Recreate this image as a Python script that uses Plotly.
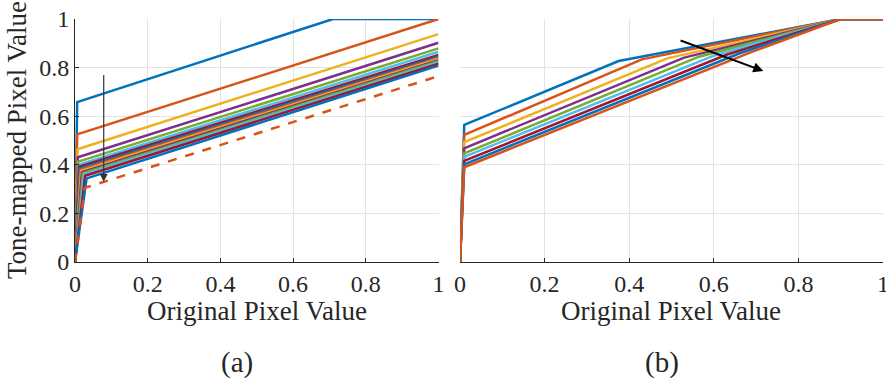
import plotly.graph_objects as go

# ---------------- data ----------------
colors = ["#0072BD", "#D95319", "#EDB120", "#7E2F8E", "#77AC30", "#4DBEEE", "#A2142F"]

# panel (a): knee point (x0, y0) and value at x = 1 (clipped at 1)
a_x0 = [0.006, 0.006, 0.007, 0.008, 0.009, 0.010, 0.011, 0.013, 0.015, 0.017, 0.019, 0.022, 0.025, 0.028, 0.032]
a_y0 = [0.658, 0.525, 0.464, 0.431, 0.413, 0.400, 0.392, 0.385, 0.380, 0.375, 0.370, 0.365, 0.360, 0.355, 0.344]
a_y1 = [1.141, 1.000, 0.938, 0.902, 0.879, 0.865, 0.852, 0.845, 0.840, 0.836, 0.831, 0.826, 0.821, 0.816, 0.808]
a_dash_x0 = 0.027
a_dash_y0 = 0.305
a_dash_y1 = 0.765

# panel (b): start value, knee point, then saturation at (0.9, 1)
b_x0 = 0.01
b_y0 = [0.564, 0.523, 0.493, 0.468, 0.447, 0.433, 0.416, 0.402, 0.390]
b_xk = [0.375, 0.430, 0.490, 0.530, 0.565, 0.600, 0.630, 0.660, 0.690]
b_yk = [0.827, 0.834, 0.838, 0.841, 0.845, 0.849, 0.853, 0.858, 0.865]
b_xs = 0.9

ticks = [0, 0.2, 0.4, 0.6, 0.8, 1]
tick_text = ["0", "0.2", "0.4", "0.6", "0.8", "1"]

FONT = "Liberation Serif"
TXT = "#262626"
LW = 2.5

fig = go.Figure()

# ---- panel (a) ----
for i, (x0, y0, y1) in enumerate(zip(a_x0, a_y0, a_y1)):
    xs = [0, x0]
    ys = [0, y0]
    if y1 > 1:
        xc = x0 + (1 - y0) * (1 - x0) / (y1 - y0)
        xs += [xc, 1]
        ys += [1, 1]
    else:
        xs += [1]
        ys += [y1]
    fig.add_trace(go.Scatter(x=xs, y=ys, mode="lines", xaxis="x", yaxis="y",
                             line=dict(color=colors[i % 7], width=LW), showlegend=False, hoverinfo="skip"))
fig.add_trace(go.Scatter(x=[0, a_dash_x0, 1], y=[0, a_dash_y0, a_dash_y1], mode="lines",
                         xaxis="x", yaxis="y",
                         line=dict(color=colors[1], width=LW, dash="dash"), showlegend=False, hoverinfo="skip"))

# ---- panel (b) ----
for i, (y0, xk, yk) in enumerate(zip(b_y0, b_xk, b_yk)):
    fig.add_trace(go.Scatter(x=[0, b_x0, xk, b_xs, 1], y=[0, y0, yk, 1, 1], mode="lines",
                             xaxis="x2", yaxis="y2",
                             line=dict(color=colors[i % 7], width=LW), showlegend=False, hoverinfo="skip"))

axis_common = dict(range=[0, 1], tickvals=ticks, ticktext=tick_text, showgrid=True,
                   gridcolor="#e3e3e3", gridwidth=1, zeroline=False, ticklen=4,
                   tickcolor=TXT, tickfont=dict(family=FONT, size=24, color=TXT),
                   fixedrange=True, automargin=False, ticklabeloverflow="allow")

fig.update_layout(
    width=886, height=387,
    margin=dict(l=0, r=0, t=0, b=0, autoexpand=False),
    paper_bgcolor="white", plot_bgcolor="white",
    xaxis=dict(domain=[75 / 886, 438.5 / 886], anchor="y", showline=True, linecolor=TXT, linewidth=1,
               ticks="inside", **axis_common),
    yaxis=dict(domain=[(387 - 262) / 387, (387 - 19) / 387], anchor="x", showline=True, linecolor=TXT,
               linewidth=1, ticks="inside", **axis_common),
    xaxis2=dict(domain=[460 / 886, 883 / 886], anchor="y2", showline=True, linecolor=TXT, linewidth=1,
                ticks="inside", **axis_common),
    yaxis2=dict(domain=[(387 - 262) / 387, (387 - 19) / 387], anchor="x2", showline=False,
                showticklabels=False, ticks="", **axis_common),
)

ann = []
ann.append(dict(x=257, y=311, text="Original Pixel Value", size=27))
ann.append(dict(x=671, y=311, text="Original Pixel Value", size=27))
ann.append(dict(x=17, y=140, text="Tone-mapped Pixel Value", size=27, angle=-90))
ann.append(dict(x=237, y=362, text="(a)", size=29))
ann.append(dict(x=662, y=362, text="(b)", size=29))
annotations = []
for a in ann:
    annotations.append(dict(x=a["x"] / 886, y=1 - a["y"] / 387, xref="paper", yref="paper",
                            xanchor="center", yanchor="middle",
                            text=a["text"], showarrow=False, textangle=a.get("angle", 0),
                            font=dict(family=FONT, size=a["size"], color=TXT)))

# arrows
annotations.append(dict(x=0.079, y=0.33, ax=0.079, ay=0.776, xref="x", yref="y", axref="x", ayref="y",
                        showarrow=True, arrowhead=2, arrowsize=1.3, arrowwidth=1.2, arrowcolor="#333333", text=""))
annotations.append(dict(x=0.717, y=0.786, ax=0.518, ay=0.914, xref="x2", yref="y2", axref="x2", ayref="y2",
                        showarrow=True, arrowhead=2, arrowsize=1, arrowwidth=2, arrowcolor="#000000", text=""))
fig.update_layout(annotations=annotations)

fig.write_html("out.html", config={"displayModeBar": False},
               post_script="document.body.style.margin='0';document.body.style.overflow='hidden';")
